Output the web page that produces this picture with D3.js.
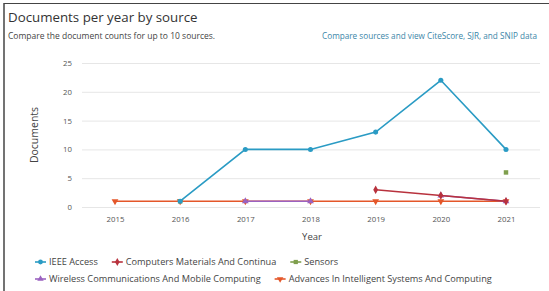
<!DOCTYPE html>
<html>
<head>
<meta charset="utf-8">
<script src="https://cdn.jsdelivr.net/npm/d3@7"></script>
<style>
  body { margin: 0; background: #fff; }
  svg { display: block; font-family: "Open Sans", Lato, sans-serif; }
</style>
</head>
<body>
<div id="chart"></div>
<script>
// data
const years = [2015, 2016, 2017, 2018, 2019, 2020, 2021];
const yTicks = [0, 5, 10, 15, 20, 25];
const seriesNames = [
  'IEEE Access',
  'Computers Materials And Continua',
  'Sensors',
  'Wireless Communications And Mobile Computing',
  'Advances In Intelligent Systems And Computing'
];
const ieeeAccess = [null, 1, 10, 10, 13, 22, 10];
const computersMaterials = [null, null, null, null, 3, 2, 1];
const sensors = [null, 1, null, null, null, null, 6];
const wirelessComm = [null, null, 1, 1, null, 2, 1];
const advancesIntelligent = [1, 1, 1, 1, 1, 1, 1];

const colors = ['#2a9bc4', '#b8323d', '#7f9f4d', '#9b62c0', '#e4572a'];
const symbols = [d3.symbolCircle, d3.symbolDiamond, d3.symbolSquare, d3.symbolTriangle, d3.symbolTriangle];

const series = [ieeeAccess, computersMaterials, sensors, wirelessComm, advancesIntelligent]
  .map((vals, i) => ({
    name: seriesNames[i],
    color: colors[i],
    symbol: symbols[i],
    down: i === 4,
    values: years.map((y, j) => ({ year: y, value: vals[j] }))
  }));

const svgWidth = 549;
const svgHeight = 291;

const svg = d3.select('#chart')
  .append('svg')
  .attr('width', svgWidth)
  .attr('height', svgHeight);

// frame (left and top edges)
svg.append('line').attr('x1', 4).attr('x2', 4).attr('y1', 3).attr('y2', svgHeight)
  .attr('stroke', '#444').attr('stroke-width', 1.5);
svg.append('line').attr('x1', 4).attr('x2', svgWidth).attr('y1', 3.5).attr('y2', 3.5)
  .attr('stroke', '#444').attr('stroke-width', 1.2);

svg.append('text')
  .attr('x', 8).attr('y', 22)
  .attr('fill', '#333')
  .style('font-size', '13.3px')
  .text('Documents per year by source');

svg.append('text')
  .attr('x', 8).attr('y', 39)
  .attr('fill', '#444')
  .style('font-size', '8.5px')
  .text('Compare the document counts for up to 10 sources.');

svg.append('text')
  .attr('x', 537).attr('y', 39)
  .attr('text-anchor', 'end')
  .attr('fill', '#3b86a8')
  .style('font-size', '8.2px')
  .text('Compare sources and view CiteScore, SJR, and SNIP data');

const margin = { top: 63, left: 82, right: 9, bottom: 84 };
const width = svgWidth - margin.left - margin.right;
const height = svgHeight - margin.top - margin.bottom;

const chartGroup = svg.append('g')
  .attr('transform', `translate(${margin.left}, ${margin.top})`);

const xScale = d3.scalePoint()
  .domain(years)
  .range([33, 424]);

const yScale = d3.scaleLinear()
  .domain([0, 25])
  .range([144, 0]);

// gridlines + y labels
const yAxis = chartGroup.append('g')
  .call(d3.axisLeft(yScale).tickValues(yTicks).tickSize(-width).tickPadding(10));
yAxis.select('.domain').remove();
yAxis.selectAll('line').attr('stroke', '#e6e6e6');
yAxis.selectAll('text').attr('fill', '#555').style('font-size', '7.8px')
  .attr('font-family', '"Open Sans", sans-serif');

const xAxis = chartGroup.append('g')
  .attr('transform', `translate(0, ${144})`)
  .call(d3.axisBottom(xScale).tickSize(0).tickPadding(9));
xAxis.select('.domain').remove();
xAxis.selectAll('text').attr('fill', '#555').style('font-size', '7.8px')
  .attr('font-family', '"Open Sans", sans-serif');

chartGroup.append('text')
  .attr('x', 230).attr('y', 177)
  .attr('text-anchor', 'middle')
  .attr('fill', '#444')
  .style('font-size', '9.5px')
  .text('Year');

svg.append('text')
  .attr('transform', `translate(38, 135) rotate(-90)`)
  .attr('text-anchor', 'middle')
  .attr('fill', '#444')
  .style('font-size', '10.5px')
  .text('Documents');

const line = d3.line()
  .defined(d => d.value !== null)
  .x(d => xScale(d.year))
  .y(d => yScale(d.value));

// draw back to front so IEEE Access is on top
const order = [4, 3, 2, 1, 0];
order.forEach(i => {
  const s = series[i];
  chartGroup.append('path')
    .datum(s.values)
    .attr('fill', 'none')
    .attr('stroke', s.color)
    .attr('stroke-width', 1.6)
    .attr('d', line);
  chartGroup.selectAll(null)
    .data(s.values.filter(d => d.value !== null))
    .enter()
    .append('path')
    .attr('transform', d => `translate(${xScale(d.year)}, ${yScale(d.value)})${s.down ? ' rotate(180)' : ''}`)
    .attr('d', d3.symbol().type(s.symbol).size(20))
    .attr('fill', s.color);
});

// legend
const legendRows = [[0, 1, 2], [3, 4]];
legendRows.forEach((row, r) => {
  let x = 35;
  const y = 262 + r * 17;
  row.forEach(i => {
    const s = series[i];
    const g = svg.append('g').attr('transform', `translate(${x}, ${y})`);
    g.append('line').attr('x1', 0).attr('x2', 11).attr('y1', 0).attr('y2', 0)
      .attr('stroke', s.color).attr('stroke-width', 1.6);
    g.append('path')
      .attr('transform', `translate(5.5, 0)${s.down ? ' rotate(180)' : ''}`)
      .attr('d', d3.symbol().type(s.symbol).size(18))
      .attr('fill', s.color);
    const t = g.append('text')
      .attr('x', 14).attr('y', 3.2)
      .attr('fill', '#444')
      .style('font-size', '9.2px')
      .text(s.name);
    x += 14 + t.node().getComputedTextLength() + 14;
  });
});
</script>
</body>
</html>
